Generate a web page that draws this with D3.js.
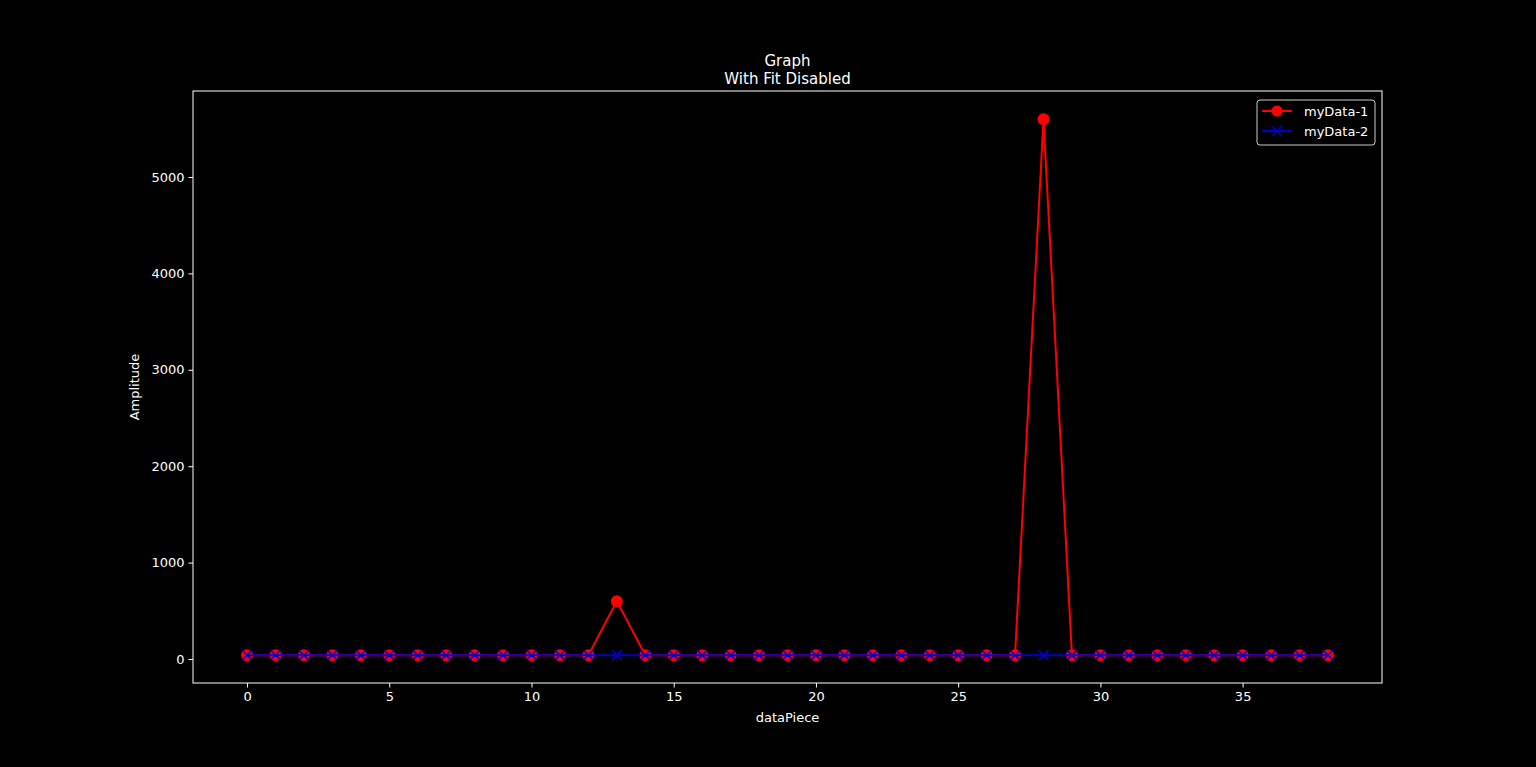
<!DOCTYPE html>
<html lang="en">
<head>
<meta charset="UTF-8">
<script src="https://cdn.jsdelivr.net/npm/d3@7"></script>
<style>
body { margin: 0; background: #000; }
text { font-family: "DejaVu Sans", sans-serif; fill: #fff; }
</style>
</head>
<body>
<script>
var pieces = d3.range(39);
var data1 = [40,40,40,40,40,40,40,40,40,40,40,40,40,600,40,40,40,40,40,40,40,40,40,40,40,40,40,40,5600,40,40,40,40,40,40,40,40,40,40];
var data2 = [40,40,40,40,40,40,40,40,40,40,40,40,40,40,40,40,40,40,40,40,40,40,40,40,40,40,40,40,40,40,40,40,40,40,40,40,40,40,40];
var xTicks = [0,5,10,15,20,25,30,35];
var yTicks = [0,1000,2000,3000,4000,5000];

var W = 1536, H = 767;
var pL = 193, pR = 1382, pT = 91, pB = 683;

var svg = d3.select('body').append('svg').attr('width', W).attr('height', H);
svg.append('rect').attr('width', W).attr('height', H).attr('fill', '#000');

var x = d3.scaleLinear().domain([-1.9, 39.9]).range([pL, pR]);
var y = d3.scaleLinear().domain([-249, 5892]).range([pB, pT]);

var xAxis = svg.append('g').attr('transform', 'translate(0,' + pB + ')')
    .call(d3.axisBottom(x).tickValues(xTicks).tickSize(4.5).tickPadding(4));
var yAxis = svg.append('g').attr('transform', 'translate(' + pL + ',0)')
    .call(d3.axisLeft(y).tickValues(yTicks).tickFormat(d3.format('d')).tickSize(4.5).tickPadding(4));
[xAxis, yAxis].forEach(function(a) {
    a.select('.domain').remove();
    a.selectAll('line').attr('stroke', '#fff');
    a.selectAll('text').attr('font-size', 13).style('fill', '#fff');
});

svg.append('rect').attr('x', pL).attr('y', pT).attr('width', pR - pL).attr('height', pB - pT)
    .attr('fill', 'none').attr('stroke', '#fff').attr('stroke-width', 1);

var line = function(d) {
    return d3.line().x(function(v, i) { return x(pieces[i]); }).y(function(v) { return y(v); })(d);
};

svg.append('path').attr('d', line(data1)).attr('fill', 'none').attr('stroke', 'red').attr('stroke-width', 2);
svg.selectAll('.dot').data(data1).enter().append('circle')
    .attr('cx', function(d, i) { return x(pieces[i]); }).attr('cy', function(d) { return y(d); })
    .attr('r', 6).attr('fill', 'red');

svg.append('path').attr('d', line(data2)).attr('fill', 'none').attr('stroke', '#0000cc').attr('stroke-width', 2);
var cross = function(g, cx, cy) {
    g.append('path').attr('d', 'M' + (cx - 5) + ',' + (cy - 5) + 'L' + (cx + 5) + ',' + (cy + 5) +
        'M' + (cx - 5) + ',' + (cy + 5) + 'L' + (cx + 5) + ',' + (cy - 5))
        .attr('stroke', '#0000cc').attr('stroke-width', 1.5);
};
data2.forEach(function(d, i) { cross(svg, x(pieces[i]), y(d)); });

svg.append('text').attr('x', (pL + pR) / 2).attr('y', 66).attr('text-anchor', 'middle').attr('font-size', 15).text('Graph');
svg.append('text').attr('x', (pL + pR) / 2).attr('y', 84).attr('text-anchor', 'middle').attr('font-size', 15).text('With Fit Disabled');
svg.append('text').attr('x', (pL + pR) / 2).attr('y', 722).attr('text-anchor', 'middle').attr('font-size', 13).text('dataPiece');
svg.append('text').attr('transform', 'translate(139,' + (pT + pB) / 2 + ') rotate(-90)')
    .attr('text-anchor', 'middle').attr('font-size', 13).text('Amplitude');

// legend
var lg = svg.append('g').attr('transform', 'translate(1257,100)');
lg.append('rect').attr('width', 118).attr('height', 45).attr('rx', 3).attr('fill', '#000')
    .attr('stroke', '#ccc').attr('stroke-width', 1);
lg.append('line').attr('x1', 5).attr('x2', 35).attr('y1', 11).attr('y2', 11).attr('stroke', 'red').attr('stroke-width', 2);
lg.append('circle').attr('cx', 20).attr('cy', 11).attr('r', 5.5).attr('fill', 'red');
lg.append('text').attr('x', 47).attr('y', 16).attr('font-size', 13).text('myData-1');
lg.append('line').attr('x1', 5).attr('x2', 35).attr('y1', 31).attr('y2', 31).attr('stroke', '#0000cc').attr('stroke-width', 2);
cross(lg, 20, 31);
lg.append('text').attr('x', 47).attr('y', 36).attr('font-size', 13).text('myData-2');
</script>
</body>
</html>
